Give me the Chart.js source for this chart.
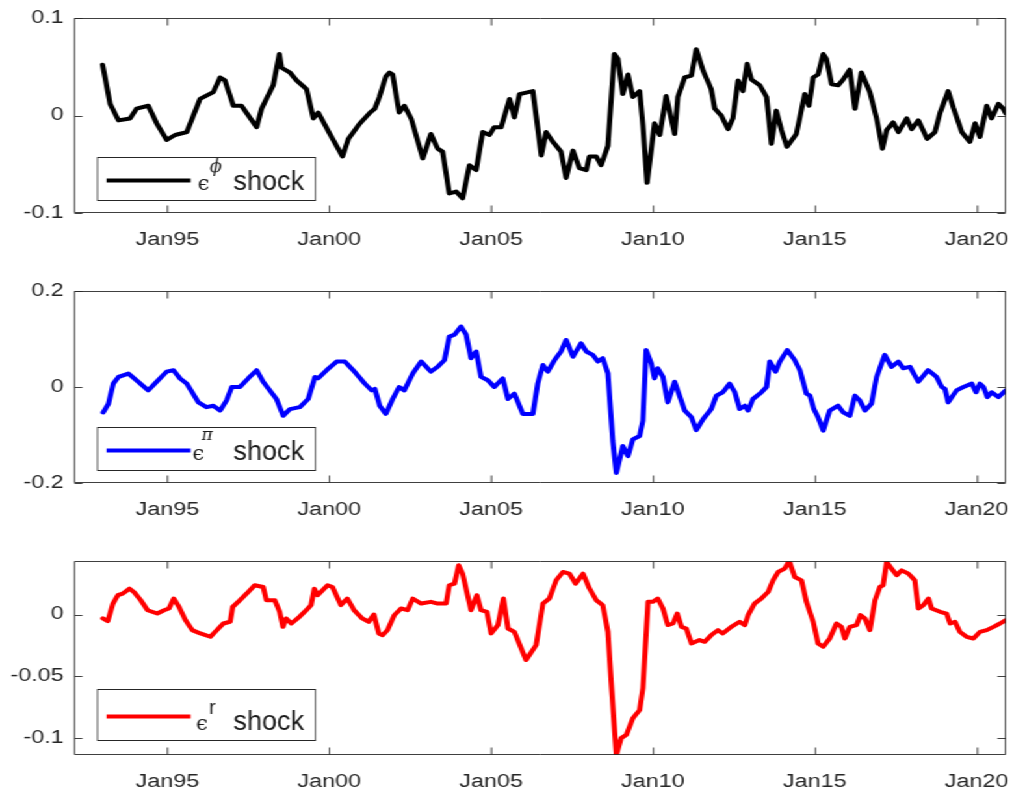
<!DOCTYPE html>
<html>
<head>
<meta charset="utf-8">
<title>Shock decomposition</title>
<script src="https://cdn.jsdelivr.net/npm/chart.js@4.4.1/dist/chart.umd.min.js"></script>
<style>
  html, body { margin: 0; padding: 0; background: #fff; overflow: hidden; }
  #stage { position: absolute; left: 0; top: 0; height: 794px; transform-origin: 0 0; }
  .panel { position: absolute; left: 0; width: 100%; }
</style>
</head>
<body>
<div id="stage">
  <div class="panel"><canvas id="phiChart"></canvas></div>
  <div class="panel"><canvas id="piChart"></canvas></div>
  <div class="panel"><canvas id="rChart"></canvas></div>
</div>
<script>
// x axis: decimal years, ticks every five years
const xTickYears = [1995, 2000, 2005, 2010, 2015, 2020];
const xTickLabels = ['Jan95', 'Jan00', 'Jan05', 'Jan10', 'Jan15', 'Jan20'];
const X_MIN = 1992.118;
const X_MAX = 2020.905;

// epsilon^phi shock
const phiYears = [
  1993.00, 1993.10, 1993.23, 1993.49, 1993.85, 1994.05, 1994.41, 1994.67, 1994.98, 1995.24,
  1995.60, 1996.01, 1996.42, 1996.63, 1996.78, 1997.04, 1997.29, 1997.76, 1997.91, 1998.27,
  1998.46, 1998.53, 1998.79, 1998.99, 1999.30, 1999.51, 1999.66, 2000.02, 2000.41, 2000.59,
  2000.95, 2001.26, 2001.41, 2001.55, 2001.75, 2001.86, 2001.96, 2002.16, 2002.32, 2002.53,
  2002.89, 2003.14, 2003.35, 2003.50, 2003.71, 2003.92, 2004.12, 2004.33, 2004.54, 2004.74,
  2004.95, 2005.10, 2005.31, 2005.57, 2005.72, 2005.88, 2006.29, 2006.39, 2006.55, 2006.70,
  2006.91, 2007.16, 2007.32, 2007.53, 2007.73, 2007.94, 2008.04, 2008.25, 2008.40, 2008.61,
  2008.81, 2008.92, 2009.07, 2009.23, 2009.38, 2009.59, 2009.69, 2009.82, 2010.05, 2010.21,
  2010.41, 2010.67, 2010.77, 2010.98, 2011.19, 2011.34, 2011.55, 2011.80, 2011.91, 2012.11,
  2012.32, 2012.47, 2012.63, 2012.78, 2012.91, 2013.04, 2013.30, 2013.51, 2013.66, 2013.81,
  2013.97, 2014.14, 2014.43, 2014.69, 2014.82, 2014.95, 2015.10, 2015.26, 2015.36, 2015.52,
  2015.72, 2015.88, 2016.08, 2016.24, 2016.44, 2016.70, 2016.91, 2017.09, 2017.22, 2017.42,
  2017.58, 2017.84, 2017.99, 2018.20, 2018.47, 2018.71, 2018.87, 2019.12, 2019.28, 2019.54,
  2019.79, 2019.95, 2020.10, 2020.31, 2020.46, 2020.67, 2020.82, 2020.90
];
const phiShock = [
  0.052, 0.035, 0.012, -0.005, -0.003, 0.007, 0.010, -0.008, -0.025, -0.020,
  -0.017, 0.017, 0.024, 0.039, 0.036, 0.010, 0.010, -0.012, 0.007, 0.031,
  0.063, 0.049, 0.044, 0.036, 0.027, -0.003, 0.003, -0.019, -0.042, -0.024,
  -0.008, 0.003, 0.007, 0.019, 0.040, 0.044, 0.042, 0.003, 0.010, -0.003,
  -0.044, -0.019, -0.034, -0.037, -0.080, -0.078, -0.085, -0.051, -0.056, -0.017,
  -0.020, -0.012, -0.012, 0.017, -0.002, 0.022, 0.025, 0.000, -0.041, -0.017,
  -0.027, -0.037, -0.064, -0.036, -0.054, -0.056, -0.042, -0.042, -0.051, -0.031,
  0.063, 0.058, 0.022, 0.042, 0.019, 0.025, -0.010, -0.069, -0.008, -0.020,
  0.020, -0.019, 0.019, 0.039, 0.041, 0.068, 0.046, 0.027, 0.007, 0.000,
  -0.014, -0.003, 0.036, 0.025, 0.053, 0.037, 0.031, 0.019, -0.029, 0.005,
  -0.015, -0.032, -0.019, 0.022, 0.010, 0.039, 0.042, 0.063, 0.058, 0.032,
  0.031, 0.037, 0.047, 0.007, 0.044, 0.024, -0.003, -0.034, -0.015, -0.007,
  -0.017, -0.003, -0.014, -0.005, -0.024, -0.017, 0.003, 0.025, 0.008, -0.017,
  -0.027, -0.008, -0.022, 0.010, -0.003, 0.012, 0.007, 0.002
];
const phiTicks = [-0.1, 0, 0.1];

// epsilon^pi shock
const piYears = [
  1993.02, 1993.18, 1993.33, 1993.49, 1993.80, 1994.05, 1994.41, 1994.67, 1994.98, 1995.19,
  1995.39, 1995.60, 1995.96, 1996.21, 1996.42, 1996.63, 1996.83, 1996.99, 1997.24, 1997.50,
  1997.76, 1997.96, 1998.37, 1998.58, 1998.79, 1999.09, 1999.35, 1999.56, 1999.66, 1999.92,
  2000.23, 2000.48, 2000.74, 2001.10, 2001.31, 2001.41, 2001.56, 2001.75, 2001.96, 2002.16,
  2002.32, 2002.58, 2002.84, 2003.14, 2003.35, 2003.56, 2003.71, 2003.87, 2004.07, 2004.23,
  2004.38, 2004.54, 2004.69, 2004.90, 2005.10, 2005.36, 2005.52, 2005.72, 2005.98, 2006.29,
  2006.44, 2006.60, 2006.75, 2006.96, 2007.16, 2007.32, 2007.53, 2007.78, 2007.94, 2008.14,
  2008.30, 2008.45, 2008.61, 2008.76, 2008.87, 2009.07, 2009.23, 2009.38, 2009.59, 2009.69,
  2009.79, 2009.95, 2010.05, 2010.15, 2010.31, 2010.46, 2010.67, 2010.82, 2010.98, 2011.19,
  2011.34, 2011.55, 2011.80, 2011.96, 2012.16, 2012.37, 2012.53, 2012.68, 2012.84, 2012.94,
  2013.09, 2013.35, 2013.51, 2013.61, 2013.79, 2013.92, 2014.15, 2014.38, 2014.54, 2014.74,
  2014.85, 2014.97, 2015.10, 2015.26, 2015.46, 2015.72, 2015.88, 2016.08, 2016.24, 2016.39,
  2016.55, 2016.75, 2016.91, 2017.16, 2017.37, 2017.58, 2017.73, 2017.94, 2018.20, 2018.50,
  2018.76, 2018.92, 2019.02, 2019.12, 2019.38, 2019.59, 2019.85, 2019.98, 2020.10, 2020.21,
  2020.33, 2020.46, 2020.67, 2020.90
];
const piShock = [
  -0.053, -0.035, 0.007, 0.021, 0.028, 0.014, -0.007, 0.011, 0.032, 0.035,
  0.018, 0.007, -0.032, -0.042, -0.039, -0.049, -0.028, 0.000, 0.000, 0.018,
  0.035, 0.011, -0.025, -0.060, -0.046, -0.042, -0.025, 0.021, 0.018, 0.035,
  0.053, 0.053, 0.035, 0.007, -0.007, -0.004, -0.039, -0.056, -0.025, 0.000,
  -0.007, 0.028, 0.053, 0.032, 0.042, 0.056, 0.105, 0.109, 0.126, 0.109,
  0.060, 0.074, 0.021, 0.014, 0.000, 0.018, -0.025, -0.014, -0.056, -0.056,
  0.007, 0.046, 0.032, 0.056, 0.074, 0.098, 0.063, 0.091, 0.074, 0.067,
  0.053, 0.060, 0.028, -0.112, -0.179, -0.123, -0.144, -0.109, -0.102, -0.070,
  0.077, 0.049, 0.018, 0.039, 0.021, -0.032, 0.011, -0.018, -0.049, -0.063,
  -0.090, -0.067, -0.046, -0.018, -0.011, 0.007, -0.011, -0.046, -0.039, -0.049,
  -0.025, -0.011, 0.000, 0.053, 0.032, 0.053, 0.077, 0.056, 0.035, -0.014,
  -0.018, -0.046, -0.063, -0.091, -0.049, -0.039, -0.053, -0.060, -0.018, -0.028,
  -0.049, -0.035, 0.021, 0.067, 0.042, 0.053, 0.039, 0.042, 0.011, 0.035,
  0.021, 0.000, -0.004, -0.032, -0.007, 0.000, 0.007, -0.011, 0.007, 0.000,
  -0.021, -0.011, -0.021, -0.007
];
const piTicks = [-0.2, 0, 0.2];

// epsilon^r shock
const rYears = [
  1993.01, 1993.16, 1993.32, 1993.47, 1993.62, 1993.83, 1993.98, 1994.18, 1994.39, 1994.69,
  1994.90, 1995.05, 1995.20, 1995.36, 1995.56, 1995.77, 1996.02, 1996.33, 1996.53, 1996.73,
  1996.94, 1997.02, 1997.24, 1997.45, 1997.70, 1997.96, 1998.06, 1998.32, 1998.47, 1998.57,
  1998.67, 1998.83, 1999.08, 1999.29, 1999.44, 1999.54, 1999.64, 1999.95, 2000.10, 2000.36,
  2000.56, 2000.77, 2001.02, 2001.22, 2001.38, 2001.53, 2001.65, 2001.80, 2002.01, 2002.22,
  2002.42, 2002.58, 2002.84, 2003.14, 2003.35, 2003.61, 2003.71, 2003.87, 2004.00, 2004.12,
  2004.38, 2004.56, 2004.69, 2004.87, 2005.00, 2005.21, 2005.38, 2005.52, 2005.72, 2006.08,
  2006.39, 2006.60, 2006.80, 2007.01, 2007.22, 2007.42, 2007.61, 2007.84, 2008.04, 2008.25,
  2008.45, 2008.61, 2008.71, 2008.87, 2009.02, 2009.18, 2009.38, 2009.59, 2009.69, 2009.85,
  2010.00, 2010.15, 2010.31, 2010.46, 2010.62, 2010.75, 2010.88, 2011.03, 2011.19, 2011.44,
  2011.60, 2011.80, 2012.01, 2012.16, 2012.42, 2012.68, 2012.84, 2012.94, 2013.14, 2013.35,
  2013.56, 2013.71, 2013.87, 2014.07, 2014.21, 2014.38, 2014.59, 2014.74, 2014.95, 2015.10,
  2015.26, 2015.46, 2015.67, 2015.82, 2015.93, 2016.08, 2016.29, 2016.41, 2016.55, 2016.70,
  2016.86, 2017.01, 2017.11, 2017.22, 2017.37, 2017.53, 2017.68, 2017.89, 2018.09, 2018.20,
  2018.35, 2018.51, 2018.61, 2018.87, 2019.07, 2019.18, 2019.33, 2019.48, 2019.69, 2019.90,
  2020.10, 2020.31, 2020.52, 2020.72, 2020.90
];
const rShock = [
  -0.0032, -0.0054, 0.0089, 0.0157, 0.0170, 0.0210, 0.0180, 0.0116, 0.0035, 0.0008,
  0.0035, 0.0049, 0.0130, 0.0062, -0.0046, -0.0127, -0.0154, -0.0181, -0.0127, -0.0073,
  -0.0059, 0.0062, 0.0116, 0.0170, 0.0238, 0.0224, 0.0116, 0.0116, 0.0022, -0.0100,
  -0.0032, -0.0073, -0.0019, 0.0035, 0.0076, 0.0210, 0.0157, 0.0238, 0.0224, 0.0076,
  0.0130, 0.0035, -0.0032, -0.0059, 0.0000, -0.0154, -0.0168, -0.0127, -0.0005, 0.0049,
  0.0035, 0.0130, 0.0089, 0.0103, 0.0089, 0.0089, 0.0238, 0.0251, 0.0400, 0.0332,
  0.0035, 0.0157, 0.0035, 0.0022, -0.0154, -0.0086, 0.0130, -0.0114, -0.0141, -0.0370,
  -0.0249, 0.0089, 0.0130, 0.0278, 0.0346, 0.0332, 0.0251, 0.0332, 0.0211, 0.0116,
  0.0076, -0.0141, -0.0546, -0.1142, -0.1005, -0.0978, -0.0843, -0.0776, -0.0600, 0.0103,
  0.0103, 0.0130, 0.0049, -0.0086, -0.0073, 0.0008, -0.0100, -0.0114, -0.0235, -0.0208,
  -0.0222, -0.0168, -0.0127, -0.0154, -0.0100, -0.0059, -0.0086, -0.0005, 0.0089, 0.0130,
  0.0184, 0.0278, 0.0346, 0.0373, 0.0435, 0.0305, 0.0278, 0.0103, -0.0059, -0.0235,
  -0.0262, -0.0195, -0.0073, -0.0100, -0.0195, -0.0100, -0.0086, -0.0005, -0.0032, -0.0127,
  0.0116, 0.0224, 0.0238, 0.0427, 0.0373, 0.0319, 0.0359, 0.0332, 0.0278, 0.0049,
  0.0076, 0.0130, 0.0049, 0.0022, 0.0008, -0.0073, -0.0059, -0.0141, -0.0181, -0.0195,
  -0.0141, -0.0127, -0.0100, -0.0073, -0.0046
];
const rTicks = [-0.1, -0.05, 0];

// the figure is drawn narrow and stretched sideways; the stage runs past the
// right edge of the page so the last tick label never squeezes the plot area
const S = 1.3;
const STAGE_W = 800;
const AXIS_LEFT = 74;
const AXIS_RIGHT = 1006;
const AXIS_COLOR = '#262626';
const TICK_FONT = { family: '"Liberation Sans", Arial, sans-serif', size: 18 };

// box around the plot area plus inward tick marks on all four sides
const frame = {
  id: 'frame',
  afterDatasetsDraw(chart) {
    const { ctx, chartArea: a, scales: { x, y } } = chart;
    const L = Math.round(a.left * S) + 0.5;
    const R = Math.round(a.right * S) - 0.5;
    const T = Math.round(a.top) + 0.5;
    const B = Math.round(a.bottom) - 0.5;
    ctx.save();
    ctx.scale(1 / S, 1);
    ctx.strokeStyle = AXIS_COLOR;
    ctx.lineWidth = 1;
    ctx.beginPath();
    ctx.rect(L, T, R - L, B - T);
    x.ticks.forEach(t => {
      const px = Math.round(x.getPixelForValue(t.value) * S) + 0.5;
      ctx.moveTo(px, B); ctx.lineTo(px, B - 7);
      ctx.moveTo(px, T); ctx.lineTo(px, T + 7);
    });
    y.ticks.forEach(t => {
      const py = Math.round(y.getPixelForValue(t.value)) + 0.5;
      ctx.moveTo(L, py); ctx.lineTo(L + 8, py);
      ctx.moveTo(R, py); ctx.lineTo(R - 8, py);
    });
    ctx.stroke();
    ctx.restore();
  }
};

// boxed legend: line sample, epsilon with a superscript, then "shock"
const shockLegend = {
  id: 'shockLegend',
  afterDraw(chart, args, o) {
    const { ctx, chartArea: a } = chart;
    ctx.save();
    ctx.scale(1 / S, 1);
    const left = Math.round(a.left * S + 22.5) + 0.5;
    const bottom = Math.round(a.bottom - o.gap) + 0.5;
    const top = bottom - o.height;
    const w = 218;
    ctx.fillStyle = '#fff';
    ctx.fillRect(left, top, w, o.height);
    ctx.strokeStyle = AXIS_COLOR;
    ctx.lineWidth = 1;
    ctx.strokeRect(left, top, w, o.height);

    const lineY = (top + bottom) / 2 + 1.5;
    ctx.strokeStyle = o.color;
    ctx.lineWidth = 4;
    ctx.beginPath();
    ctx.moveTo(left + 9, lineY);
    ctx.lineTo(left + 93, lineY);
    ctx.stroke();

    const base = bottom - 10.5;
    ctx.fillStyle = '#1a1a1a';
    ctx.textBaseline = 'alphabetic';
    ctx.font = '21px "DejaVu Serif", serif';
    ctx.fillText('\u03f5', left + o.epsX, base);
    ctx.font = o.supFont;
    ctx.fillText(o.sup, left + o.supX, base - o.supRise);
    ctx.font = '27px "Liberation Sans", Arial, sans-serif';
    ctx.fillText('shock', left + 136, base);
    ctx.restore();
  }
};

const panels = [
  {
    id: 'phiChart', plotTop: 18, plotBottom: 213,
    years: phiYears, values: phiShock, ticks: phiTicks, min: -0.1, max: 0.1,
    legend: { color: '#000000', gap: 13.5, height: 43, epsX: 100, sup: '\u03d5', supX: 112,
              supRise: 18, supFont: 'italic 18px "DejaVu Serif", serif' }
  },
  {
    id: 'piChart', plotTop: 291, plotBottom: 483,
    years: piYears, values: piShock, ticks: piTicks, min: -0.2, max: 0.2,
    legend: { color: '#0000ff', gap: 13, height: 43, epsX: 95, sup: '\u03c0', supX: 104,
              supRise: 20.5, supFont: 'italic 17px "DejaVu Serif", serif' }
  },
  {
    id: 'rChart', plotTop: 561, plotBottom: 755,
    years: rYears, values: rShock, ticks: rTicks,
    min: Math.min(...rShock), max: Math.max(...rShock),
    legend: { color: '#ff0000', gap: 15.5, height: 51, epsX: 98.5, sup: 'r', supX: 111.5,
              supRise: 16.5, supFont: '20px "Liberation Sans", Arial, sans-serif' }
  }
];

const stage = document.getElementById('stage');
stage.style.width = STAGE_W + 'px';
stage.style.transform = 'scaleX(' + S + ')';

const PAD_TOP = 24;
const XAXIS_H = 45;

panels.forEach(p => {
  const canvas = document.getElementById(p.id);
  const holder = canvas.parentNode;
  holder.style.top = (p.plotTop - PAD_TOP) + 'px';
  holder.style.height = (p.plotBottom - p.plotTop + PAD_TOP + XAXIS_H) + 'px';

  new Chart(canvas, {
    type: 'line',
    data: {
      datasets: [{
        data: p.years.map((yr, i) => ({ x: yr, y: p.values[i] })),
        borderColor: p.legend.color,
        borderWidth: 4,
        borderJoinStyle: 'round',
        borderCapStyle: 'round',
        pointRadius: 0,
        tension: 0,
        fill: false
      }]
    },
    options: {
      responsive: true,
      maintainAspectRatio: false,
      animation: false,
      events: [],
      layout: { padding: { top: PAD_TOP, left: 0, bottom: 0, right: STAGE_W - AXIS_RIGHT / S } },
      plugins: {
        legend: { display: false },
        tooltip: { enabled: false },
        shockLegend: p.legend
      },
      scales: {
        x: {
          type: 'linear',
          min: X_MIN,
          max: X_MAX,
          grid: { display: false, drawTicks: false },
          border: { display: false },
          afterBuildTicks: axis => { axis.ticks = xTickYears.map(v => ({ value: v })); },
          afterFit: axis => { axis.height = XAXIS_H; },
          ticks: {
            autoSkip: false,
            maxRotation: 0,
            padding: 16,
            color: AXIS_COLOR,
            font: TICK_FONT,
            callback: (v, i) => xTickLabels[i]
          }
        },
        y: {
          min: p.min,
          max: p.max,
          grid: { display: false, drawTicks: false },
          border: { display: false },
          afterBuildTicks: axis => { axis.ticks = p.ticks.map(v => ({ value: v })); },
          afterFit: axis => { axis.width = AXIS_LEFT / S; },
          ticks: {
            padding: 8,
            color: AXIS_COLOR,
            font: TICK_FONT,
            callback: v => String(v)
          }
        }
      }
    },
    plugins: [frame, shockLegend]
  });
});
</script>
</body>
</html>
